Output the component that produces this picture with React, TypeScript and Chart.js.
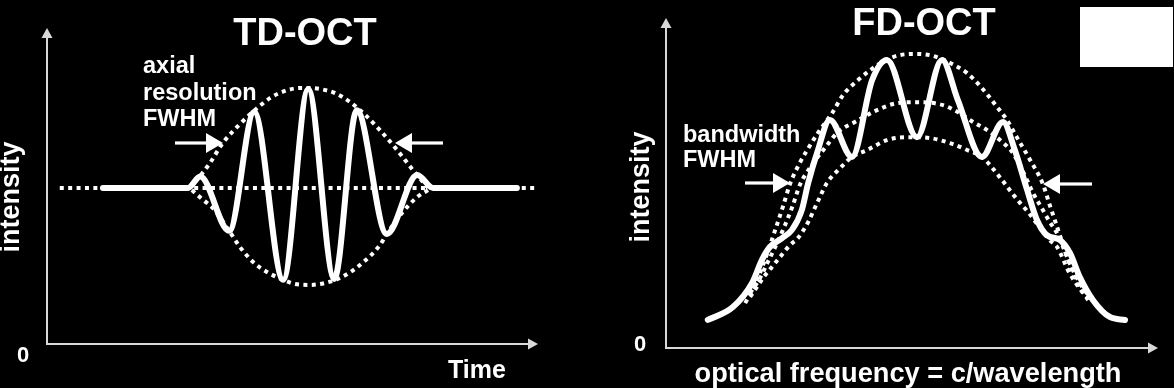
import React, { useEffect, useRef } from "react";
import { Chart, registerables } from "chart.js";
Chart.register(...registerables);

// ---------- TD-OCT (time 0–100, intensity 0–100) ----------
const tdBaselineTime = [2.6, 99.4];
const tdBaselineIntensity = [49.4, 49.4];

const tdWaveTime = [11.4, 28.7, 31.2, 37.1, 42.2, 48.1, 53.2, 58.5, 63.1, 69.2, 75.4, 78.6, 95.7];
const tdWaveIntensity = [49.4, 49.4, 53.0, 35.8, 73.4, 20.3, 80.7, 20.6, 74.0, 34.8, 53.5, 49.4, 49.4];

const tdUpperEnvTime = [29.1, 31.2, 33.2, 35.8, 39.3, 42.4, 45.4, 48.5, 51.5, 53.6, 55.6, 58.7, 61.7, 64.8, 67.8, 71.3, 74.5, 77.6];
const tdUpperEnv = [49.4, 53.2, 57.3, 63.6, 69.6, 74.1, 77.8, 80.1, 81.0, 81.0, 80.7, 79.4, 76.6, 72.5, 67.7, 61.4, 55.1, 49.4];

const tdLowerEnvTime = [29.5, 31.8, 33.8, 37.1, 39.3, 42.0, 44.8, 48.1, 50.5, 53.6, 56.6, 60.1, 64.2, 67.8, 69.2, 72.3, 75.4, 77.6];
const tdLowerEnv = [48.7, 45.6, 43.0, 35.8, 30.7, 25.9, 22.8, 20.3, 19.0, 18.7, 19.3, 21.2, 25.6, 31.3, 34.8, 41.5, 46.5, 48.7];

// ---------- FD-OCT (optical frequency 0–100, intensity 0–100) ----------
const fdSpectrumFreq = [8.5, 13.6, 17.5, 19.5, 21.1, 23.6, 25.6, 27.6, 28.9, 30.7, 33.3, 37.8, 41.9, 44.9, 51.0, 56.1, 59.3, 64.2, 68.5, 70.9, 73.4, 75.4, 77.4, 80.1, 82.1, 84.1, 86.8, 90.2, 93.3];
const fdSpectrum = [8.5, 12.4, 19.7, 26.7, 30.6, 33.3, 35.8, 41.8, 50.0, 59.1, 69.1, 57.9, 81.2, 87.3, 63.9, 87.3, 75.2, 57.9, 68.5, 60.0, 47.9, 38.8, 34.2, 32.7, 28.8, 21.5, 14.5, 9.4, 8.5];

const fdTopArcFreq = [16.1, 18.1, 20.1, 22.2, 23.8, 25.2, 27.2, 28.7, 30.9, 33.9, 36.0, 38.8, 41.5, 44.1, 47.6, 51.0, 54.3, 57.7, 61.2, 64.2, 67.3, 69.3, 71.3, 74.0, 76.6, 78.0, 79.7, 81.7, 83.7, 85.8];
const fdTopArc = [13.6, 19.1, 26.7, 35.8, 43.0, 49.7, 56.1, 60.0, 65.2, 71.5, 76.7, 80.9, 84.2, 86.7, 88.8, 89.1, 88.5, 86.4, 83.3, 78.8, 73.0, 69.1, 63.9, 57.0, 49.7, 43.3, 35.8, 26.7, 19.7, 14.5];

const fdMidArcFreq = [17.1, 19.1, 20.7, 22.4, 24.2, 25.8, 27.2, 29.7, 32.3, 35.0, 38.4, 42.9, 47.0, 51.6, 56.3, 59.3, 62.4, 65.2, 67.9, 70.5, 72.6, 74.6, 76.6, 78.0, 79.7, 81.1, 82.5, 84.1, 86.2];
const fdMidArc = [16.7, 21.2, 26.1, 31.2, 37.3, 43.3, 49.4, 55.5, 60.6, 65.5, 68.5, 72.1, 74.2, 74.5, 73.6, 71.5, 68.5, 66.1, 63.0, 59.1, 53.3, 47.0, 41.8, 38.2, 34.2, 29.1, 24.2, 19.7, 15.2];

const fdLowArcFreq = [17.1, 18.5, 19.7, 21.5, 23.2, 25.2, 26.8, 28.9, 30.7, 32.7, 35.4, 37.8, 40.9, 44.9, 49.0, 53.7, 57.7, 61.2, 64.2, 68.3, 70.3, 72.0, 73.6, 76.0, 78.0, 79.5, 80.5, 81.5, 82.5, 84.6, 86.2];
const fdLowArc = [15.5, 18.5, 21.2, 24.5, 27.6, 31.2, 33.3, 38.2, 43.9, 50.0, 54.5, 57.9, 60.0, 63.0, 63.9, 63.6, 62.1, 60.0, 57.9, 50.9, 47.0, 43.9, 41.2, 36.4, 32.7, 30.6, 27.6, 24.2, 21.5, 17.0, 14.5];

// ---------- helpers ----------
const WHITE = "#ffffff";
const AXIS = "#d8d8d8";
const FONT = '"Liberation Sans", Arial, Helvetica, sans-serif';

const pts = (xs: number[], ys: number[]) => xs.map((x, i) => ({ x, y: ys[i] }));

const solid = (data: any) => ({
  data,
  borderColor: WHITE,
  borderWidth: 6,
  borderCapStyle: "round",
  borderJoinStyle: "round",
  cubicInterpolationMode: "monotone",
  pointRadius: 0,
  fill: false,
});
const dotted = (data: any) => ({
  data,
  borderColor: WHITE,
  borderWidth: 4,
  borderDash: [4, 4.4],
  borderCapStyle: "butt",
  cubicInterpolationMode: "monotone",
  pointRadius: 0,
  fill: false,
});

function hArrow(ctx: CanvasRenderingContext2D, xTail: number, xTip: number, y: number) {
  const dir = Math.sign(xTip - xTail);
  const headLen = 17;
  const headHalf = 10;
  const base = xTip - dir * headLen;
  ctx.fillStyle = WHITE;
  ctx.fillRect(Math.min(xTail, base), y - 1.6, Math.abs(base - xTail), 3.2);
  ctx.beginPath();
  ctx.moveTo(xTip, y);
  ctx.lineTo(base, y - headHalf);
  ctx.lineTo(base, y + headHalf);
  ctx.closePath();
  ctx.fill();
}

function drawAxes(ctx: CanvasRenderingContext2D, a: any) {
  ctx.strokeStyle = AXIS;
  ctx.fillStyle = AXIS;
  ctx.lineWidth = 2;
  ctx.beginPath();
  ctx.moveTo(a.left, a.top + 8);
  ctx.lineTo(a.left, a.bottom);
  ctx.lineTo(a.right - 8, a.bottom);
  ctx.stroke();
  ctx.beginPath();
  ctx.moveTo(a.left, a.top);
  ctx.lineTo(a.left - 5.5, a.top + 10);
  ctx.lineTo(a.left + 5.5, a.top + 10);
  ctx.closePath();
  ctx.fill();
  ctx.beginPath();
  ctx.moveTo(a.right, a.bottom);
  ctx.lineTo(a.right - 10, a.bottom - 5.5);
  ctx.lineTo(a.right - 10, a.bottom + 5.5);
  ctx.closePath();
  ctx.fill();
}

function text(ctx: CanvasRenderingContext2D, s: string, x: number, y: number, size: number, align: CanvasTextAlign = "left") {
  ctx.fillStyle = WHITE;
  ctx.font = `bold ${size}px ${FONT}`;
  ctx.textAlign = align;
  ctx.textBaseline = "alphabetic";
  ctx.fillText(s, x, y);
}

function vText(ctx: CanvasRenderingContext2D, s: string, cx: number, cy: number, size: number) {
  ctx.save();
  ctx.translate(cx, cy);
  ctx.rotate(-Math.PI / 2);
  ctx.fillStyle = WHITE;
  ctx.font = `bold ${size}px ${FONT}`;
  ctx.textAlign = "center";
  ctx.textBaseline = "middle";
  ctx.fillText(s, 0, 0);
  ctx.restore();
}

const decor = (draw: (ctx: CanvasRenderingContext2D, a: any) => void) => ({
  id: "decor",
  afterDatasetsDraw(chart: any) {
    const ctx = chart.ctx as CanvasRenderingContext2D;
    ctx.save();
    draw(ctx, chart.chartArea);
    ctx.restore();
  },
});

const baseOptions = (padding: any) => ({
  responsive: false,
  animation: false,
  events: [],
  layout: { padding },
  plugins: { legend: { display: false }, title: { display: false }, tooltip: { enabled: false } },
  scales: {
    x: { type: "linear", min: 0, max: 100, display: false },
    y: { type: "linear", min: 0, max: 100, display: false },
  },
});

function TDChart() {
  const ref = useRef<HTMLCanvasElement>(null);
  useEffect(() => {
    const chart = new Chart(ref.current!, {
      type: "line",
      data: {
        datasets: [
          solid(pts(tdWaveTime, tdWaveIntensity)),
          dotted(pts(tdBaselineTime, tdBaselineIntensity)),
          dotted(pts(tdUpperEnvTime, tdUpperEnv)),
          dotted(pts(tdLowerEnvTime, tdLowerEnv)),
        ] as any,
      },
      options: baseOptions({ left: 47, right: 42, top: 28, bottom: 44 }) as any,
      plugins: [
        decor((ctx, a) => {
          drawAxes(ctx, a);
          text(ctx, "TD-OCT", 305, 45, 38, "center");
          text(ctx, "axial", 143, 73, 23.5);
          text(ctx, "resolution", 143, 99.5, 23.5);
          text(ctx, "FWHM", 143, 126, 23.5);
          hArrow(ctx, 175, 223, 143);
          hArrow(ctx, 443, 395, 143);
          text(ctx, "0", 23, 362, 22, "center");
          text(ctx, "Time", 477, 378, 25, "center");
          vText(ctx, "intensity", 12, 197, 27);
        }),
      ],
    });
    return () => chart.destroy();
  }, []);
  return <canvas ref={ref} width={580} height={388} style={{ position: "absolute", left: 0, top: 0 }} />;
}

function FDChart() {
  const ref = useRef<HTMLCanvasElement>(null);
  useEffect(() => {
    const chart = new Chart(ref.current!, {
      type: "line",
      data: {
        datasets: [
          solid(pts(fdSpectrumFreq, fdSpectrum)),
          dotted(pts(fdTopArcFreq, fdTopArc)),
          dotted(pts(fdMidArcFreq, fdMidArc)),
          dotted(pts(fdLowArcFreq, fdLowArc)),
        ] as any,
      },
      options: baseOptions({ left: 86, right: 16, top: 18, bottom: 40 }) as any,
      plugins: [
        decor((ctx, a) => {
          drawAxes(ctx, a);
          text(ctx, "FD-OCT", 344, 35, 38, "center");
          text(ctx, "bandwidth", 103, 142, 23.5);
          text(ctx, "FWHM", 103, 167, 23.5);
          hArrow(ctx, 165, 210, 183);
          hArrow(ctx, 512, 463, 184);
          text(ctx, "0", 60, 351, 22, "center");
          text(ctx, "optical frequency = c/wavelength", 328, 382, 27.2, "center");
          vText(ctx, "intensity", 62, 187, 27);
        }),
      ],
    });
    return () => chart.destroy();
  }, []);
  return <canvas ref={ref} width={594} height={388} style={{ position: "absolute", left: 580, top: 0 }} />;
}

export default function App() {
  return (
    <div style={{ position: "fixed", left: 0, top: 0, width: 1174, height: 388, background: "#000", overflow: "hidden" }}>
      <TDChart />
      <FDChart />
      <div style={{ position: "absolute", left: 1080, top: 7, width: 93, height: 60, background: "#fff" }} />
    </div>
  );
}
